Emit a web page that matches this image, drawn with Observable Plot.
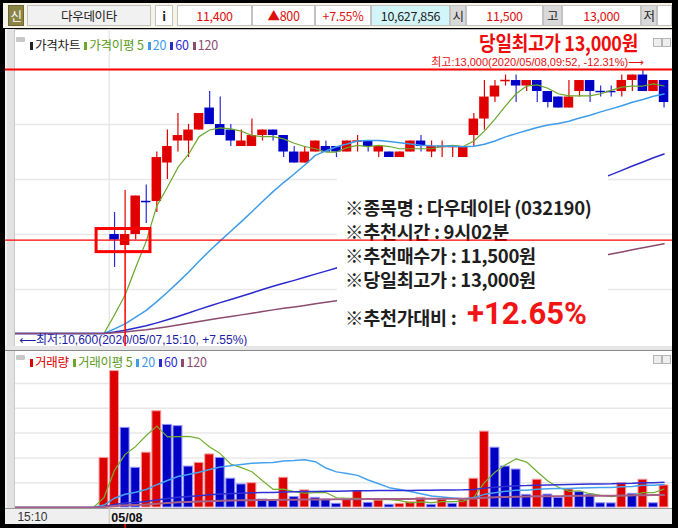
<!DOCTYPE html>
<html><head><meta charset="utf-8">
<script src="https://cdn.jsdelivr.net/npm/d3@7"></script>
<script src="https://cdn.jsdelivr.net/npm/@observablehq/plot@0.6"></script>
<style>
body{margin:0;background:#000;}
#wrap{position:relative;width:678px;height:528px;background:#000;overflow:hidden;font-family:"Noto Sans CJK KR","Noto Sans",sans-serif;}
.abs{position:absolute;}
.cell{position:absolute;top:5px;height:21px;line-height:20px;text-align:center;border:1px solid #c2c2c2;box-sizing:border-box;font-size:12.5px;background:#fff;color:#222;letter-spacing:-0.3px;}
.red{color:#dd1010;}
.gl{background:#d9d9d9;color:#222;}
.leg{position:absolute;font-size:12.5px;line-height:16px;white-space:nowrap;letter-spacing:-0.2px;}
.leg b{display:inline-block;width:3px;height:8px;margin:0 2px 0 4px;vertical-align:0px;}
.strip{background:#e2e2e2;border-left:2px solid #f2f2f2;border-right:1px solid #c9c9c9;box-sizing:border-box;}
.info{position:absolute;left:8px;font-size:18.5px;line-height:20px;color:#1e1e1e;font-weight:bold;white-space:nowrap;letter-spacing:-0.3px;}
.ico{position:absolute;width:7px;height:7px;border:1px solid #b5b5b5;background:#eee;}
</style></head><body>
<div id="wrap">
  <!-- header bar -->
  <div class="abs" style="left:3px;top:3px;width:669px;height:25px;background:#f6f4e6"></div>
  <div class="cell" style="left:8px;width:16px;background:#8c8446;color:#fff;border-color:#6d6735">신</div>
  <div class="cell" style="left:27px;width:124px;background:#f1f1f1;">다우데이타</div>
  <div class="cell" style="left:155px;width:18px;font-weight:bold;">i</div>
  <div class="cell red" style="left:177px;width:75px;">11,400</div>
  <div class="cell red" style="left:252px;width:63px;">▲800</div>
  <div class="cell red" style="left:315px;width:56px;">+7.55%</div>
  <div class="cell" style="left:371px;width:79px;background:#d2f5fa;">10,627,856</div>
  <div class="cell gl" style="left:450px;width:16px;">시</div>
  <div class="cell red" style="left:466px;width:77px;">11,500</div>
  <div class="cell gl" style="left:543px;width:19px;">고</div>
  <div class="cell red" style="left:562px;width:79px;">13,000</div>
  <div class="cell gl" style="left:641px;width:16px;">저</div>
  <div class="cell" style="left:657px;width:15px;"></div>

  <!-- price panel -->
  <div class="abs" style="left:5px;top:29px;width:667px;height:317px;background:#fff;border-top:1px solid #bdbdbd;box-sizing:border-box"></div>
  <div id="priceChart" class="abs" style="left:5px;top:29px"></div>
  <div class="abs strip" style="left:5px;top:29px;width:10px;height:317px"></div>
  <div id="infoBox" class="abs" style="left:337px;top:170px;width:271px;height:161px;background:#fff">
    <div class="info" style="top:27px">※종목명 : 다우데이타 (032190)</div>
    <div class="info" style="top:51px">※추천시간 : 9시02분</div>
    <div class="info" style="top:75px">※추천매수가 : 11,500원</div>
    <div class="info" style="top:99px">※당일최고가 : 13,000원</div>
    <div class="info" style="top:137px">※추천가대비 :</div>
    <div class="info" style="top:127px;left:130px;font-size:31px;line-height:34px;color:#f21515;font-weight:bold;font-family:Roboto,'Noto Sans',sans-serif;letter-spacing:0">+12.65%</div>
  </div>
  <div id="annot" class="abs" style="left:5px;top:29px"></div>
  <div class="abs" style="left:16px;top:37px;width:9px;height:5px;background:#c8c8c8;border-radius:1px"></div>
  <div class="leg" style="left:26px;top:37px">
    <b style="background:#222"></b><span style="color:#222">가격차트</span><b style="background:#6aa72a"></b><span style="color:#5a9a22">가격이평 5</span><b style="background:#3d9be9"></b><span style="color:#3d9be9">20</span><b style="background:#2a2acc"></b><span style="color:#2a2acc">60</span><b style="background:#8c4a6e"></b><span style="color:#8c4a6e">120</span>
  </div>
  <div class="abs" style="left:378px;top:34px;width:260px;text-align:right;color:#ee0c0c;font-weight:bold;font-size:20px;line-height:18px;white-space:nowrap;transform:scaleX(0.9);transform-origin:right center;letter-spacing:-0.3px">당일최고가 13,000원</div>
  <div class="ico" style="left:653px;top:38px"></div><div class="ico" style="left:662px;top:38px"></div>

  <!-- separator -->
  <div class="abs" style="left:5px;top:346px;width:667px;height:4px;background:#e6e6e6"></div>
  <div class="abs" style="left:5px;top:350px;width:667px;height:1px;background:#8a8a8a"></div>

  <!-- volume panel -->
  <div class="abs" style="left:5px;top:351px;width:667px;height:157px;background:#fff"></div>
  <div id="volChart" class="abs" style="left:5px;top:351px"></div>
  <div class="abs strip" style="left:5px;top:351px;width:10px;height:157px"></div>
  <div class="abs" style="left:16px;top:355px;width:9px;height:5px;background:#c8c8c8;border-radius:1px"></div>
  <div class="leg" style="left:26px;top:354px">
    <b style="background:#dd0000"></b><span style="color:#dd0000">거래량</span><b style="background:#6aa72a"></b><span style="color:#5a9a22">거래이평 5</span><b style="background:#3d9be9"></b><span style="color:#3d9be9">20</span><b style="background:#2a2acc"></b><span style="color:#2a2acc">60</span><b style="background:#8c4a6e"></b><span style="color:#8c4a6e">120</span>
  </div>
  <div class="ico" style="left:653px;top:355px"></div><div class="ico" style="left:662px;top:355px"></div>

  <!-- x axis strip -->
  <div class="abs" style="left:5px;top:508px;width:667px;height:16px;background:#efefef;border-top:1px solid #9a9a9a;box-sizing:border-box"></div>
  <div id="axisChart" class="abs" style="left:5px;top:508px"></div>
</div>
<script>
// ---- data ----
const prevClose  = [10600,10600,10600,10600,10600,10600,10600,10600,10600,10600];
const prevVolume = [0,0,0,0,0,0,0,0,0,400]; // thousand shares
const open  = [11500,11400,11500,11800,11800,12150,12350,12350,12450,12650,12500,12450,12300,12300,12400,12450,12400,12250,12150,12250,12300,12300,12250,12350,12350,12250,12250,12200,12250,12350,12250,12300,12300,12200,12400,12550,12750,12900,12900,12850,12900,12800,12750,12650,12800,12900,12800,12800,12800,12900,12950,12800,12900];
const high  = [11700,11900,11850,11950,12250,12450,12600,12500,12600,12800,12750,12500,12450,12550,12450,12450,12400,12300,12300,12350,12350,12300,12350,12400,12350,12300,12250,12250,12350,12400,12350,12350,12300,12300,12600,12900,12900,12950,12950,12900,12900,12800,12750,12900,12900,12900,12850,12850,12950,12950,13000,12900,12900];
const low   = [11200,11400,11450,11600,11700,12000,12250,12200,12450,12500,12400,12300,12300,12300,12350,12350,12200,12150,12150,12250,12250,12200,12250,12250,12250,12200,12200,12200,12250,12250,12200,12200,12200,12200,12300,12450,12700,12850,12700,12800,12700,12650,12650,12650,12750,12700,12750,12750,12750,12800,12800,12800,12650];
const close = [11450,11500,11850,11800,12200,12300,12400,12450,12600,12500,12400,12350,12350,12400,12450,12400,12250,12150,12250,12350,12250,12250,12350,12350,12300,12300,12200,12250,12350,12300,12300,12300,12300,12300,12550,12750,12850,12900,12850,12900,12800,12700,12650,12750,12900,12800,12800,12800,12900,12950,12800,12900,12700];
const volume = [1100,642,320,442,776,666,656,330,360,428,400,232,186,196,64,56,240,84,138,78,64,30,64,132,38,56,22,30,42,78,22,64,30,64,232,612,482,330,306,102,224,104,78,146,124,104,34,33,196,110,224,34,178];
const maPeriods = [5, 20, 60, 120];
const maColors  = ["#6aa72a", "#3d9be9", "#2a2acc", "#8c4a6e"];
const volMaColors = ["#72b032", "#45a2ee", "#3030d4", "#a66088"];
const priceGrid = [11000, 11500, 12000, 12500, 13000];
const volumeGrid = [200, 400, 600, 800, 1000];
const lowLabel  = "⟵최저:10,600(2020/05/07,15:10, +7.55%)";
const highLabel = "최고:13,000(2020/05/08,09:52, -12.31%)⟶";
const xTickLabels = ["15:10", "05/08"];
const markLinePrice = 11450;     // hand-drawn red line
const recBar = 1;                // recommended bar
const markBoxBars = [-1.7, 3.4];
const markBoxPrices = [11340, 11550];

// ---- derived ----
const nPrev = prevClose.length;
const allClose = prevClose.concat(close);
const allVol = prevVolume.concat(volume);
const idx = allClose.map((_, j) => j - nPrev);
function movingAvg(series, k, pad) {
  return series.map((_, j) => { let s = 0; for (let t = j - k + 1; t <= j; t++) s += t >= 0 ? series[t] : pad; return s / k; });
}
const UP = "#e00000", DOWN = "#0000c8";
const candles = []; let prevUp = true;
for (let j = 0; j < close.length; j++) {
  const o = open[j], c = close[j];
  const pc = j > 0 ? close[j - 1] : prevClose[nPrev - 1];
  const up = c > o ? true : c < o ? false : c > pc ? true : c < pc ? false : prevUp;
  prevUp = up;
  candles.push({i: j, open: o, high: high[j], low: low[j], close: c, up, doji: o === c});
}
const volBars = allVol.map((v, j) => ({i: j - nPrev, v, up: j > 0 ? v > allVol[j - 1] : true})).filter(d => d.v > 0);

const xScale = {domain: [-10.32, 52.8], axis: null};
const W = 667;
const font = "'Liberation Sans','DejaVu Sans','Noto Sans CJK KR',sans-serif";

const priceMarks = [
  Plot.ruleY(priceGrid, {stroke: "#e8e8e8", strokeWidth: 1.5}),
  Plot.ruleX([-0.5], {stroke: "#e8e8e8", strokeWidth: 1.5}),
  Plot.ruleX(candles, {x: "i", y1: "low", y2: "high", stroke: d => d.up ? UP : "#2b2bd6", strokeWidth: 1.2}),
  Plot.rect(candles.filter(d => !d.doji), {x1: d => d.i - 0.45, x2: d => d.i + 0.45, y1: "open", y2: "close", fill: d => d.up ? UP : DOWN}),
  Plot.ruleY(candles.filter(d => d.doji), {y: "close", x1: d => d.i - 0.45, x2: d => d.i + 0.45, stroke: d => d.up ? UP : DOWN, strokeWidth: 1.5})
];
maPeriods.forEach((k, m) => {
  const vals = movingAvg(allClose, k, prevClose[0]);
  priceMarks.push(Plot.line(idx.map((i, j) => ({i, v: vals[j]})), {x: "i", y: "v", stroke: maColors[m], strokeWidth: m === 0 ? 1.2 : 1.5}));
});
const lowPoint = {i: -nPrev, p: d3.min(allClose.concat(low))};
const highPoint = {i: d3.maxIndex(high), p: d3.max(high)};
priceMarks.push(
  Plot.text([lowPoint], {x: "i", y: "p", text: () => lowLabel, textAnchor: "start", dx: 10, dy: 7, fill: "#1c1ca6", fontSize: 12, fontFamily: font}),
  Plot.text([highPoint], {x: "i", y: "p", text: () => highLabel, textAnchor: "end", dx: 1, dy: -7, fill: "#e41010", fontSize: 11, fontFamily: font})
);

const priceOpts = {width: W, height: 317, margin: 0, x: xScale, y: {domain: [10482, 13364], axis: null}, color: {type: "identity"}, style: {background: "transparent", overflow: "visible"}};
document.getElementById("priceChart").append(Plot.plot({...priceOpts, marks: priceMarks}));

// annotation layer (above info box)
document.getElementById("annot").append(Plot.plot({...priceOpts, marks: [
  Plot.ruleY([highPoint.p], {stroke: "#ff0000", strokeWidth: 2}),
  Plot.ruleY([markLinePrice], {stroke: "#ff0000", strokeWidth: 1.3}),
  Plot.ruleX([candles[recBar]], {x: "i", y1: "low", stroke: "#ff0000", strokeWidth: 1.5}),
  Plot.rect([{}], {x1: () => markBoxBars[0], x2: () => markBoxBars[1], y1: () => markBoxPrices[0], y2: () => markBoxPrices[1], fill: "none", stroke: "#ff0000", strokeWidth: 3})
]}));

// volume panel
const volMarks = [
  Plot.ruleY(volumeGrid, {stroke: "#e8e8e8", strokeWidth: 1.5}),
  Plot.rect(volBars, {x1: d => d.i - 0.42, x2: d => d.i + 0.42, y1: 0, y2: "v", fill: d => d.up ? "#dd0000" : "#0000c4", stroke: d => d.up ? "#f3a0a0" : "#9090ff", strokeWidth: 1})
];
maPeriods.forEach((k, m) => {
  const vals = movingAvg(allVol, k, 0);
  volMarks.push(Plot.line(idx.map((i, j) => ({i, v: vals[j]})), {x: "i", y: "v", stroke: volMaColors[m], strokeWidth: m === 3 ? 2 : (m === 0 ? 1.2 : 1.5)}));
});
document.getElementById("volChart").append(Plot.plot({width: W, height: 157, margin: 0, marginTop: 32, marginBottom: 1, x: xScale, y: {domain: [0, 1000], axis: null}, color: {type: "identity"}, style: {background: "transparent", overflow: "visible"}, marks: volMarks}));

// x axis strip
const ticks = [{i: -nPrev + 1, label: xTickLabels[0], w: "normal"}, {i: -0.5, label: xTickLabels[1], w: "bold"}];
document.getElementById("axisChart").append(Plot.plot({width: W, height: 16, margin: 0, x: xScale, y: {domain: [0, 1], axis: null}, style: {background: "transparent", overflow: "visible"}, marks: [
  Plot.ruleX([-0.5], {stroke: "#c4c4c4"}),
  Plot.text(ticks.filter(d => d.w === "normal"), {x: "i", y: 0.5, text: "label", textAnchor: "start", dx: -2, dy: 1, fill: "#333", fontSize: 12, fontFamily: font}),
  Plot.text(ticks.filter(d => d.w === "bold"), {x: "i", y: 0.5, text: "label", textAnchor: "start", dx: 2, dy: 1, fill: "#111", fontSize: 12.5, fontWeight: "bold", fontFamily: font})
]}));
</script>
</body></html>
